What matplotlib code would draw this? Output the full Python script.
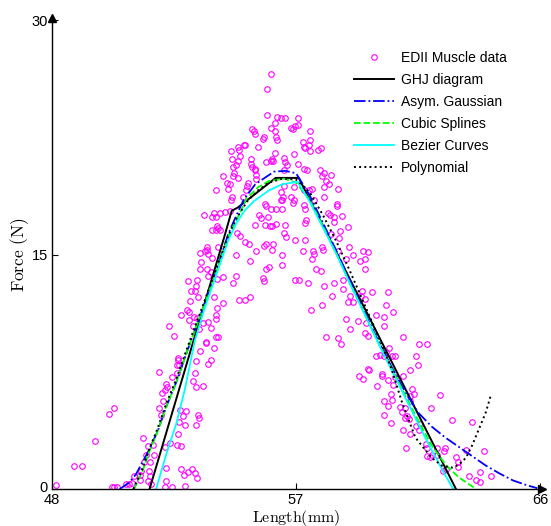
import matplotlib
matplotlib.use("Agg")
import matplotlib.pyplot as plt
import matplotlib.transforms as mtransforms
import numpy as np

# ---------------- data ----------------
pts = [
# left / bottom
(48.15,0.25),(48.8,1.5),(49.1,1.5),(49.6,3.1),(50.1,4.8),(50.3,5.2),
(50.22,0.1),(50.28,0.1),(50.41,0.1),(50.72,0.3),(50.84,0.35),(51.03,0.85),(51.25,0.6),(51.29,1.15),
(51.4,1.75),(51.47,2.15),(51.55,2.75),(51.37,3.25),(51.53,0.5),(51.59,1.15),(51.63,0.85),(51.66,0.3),
(52.15,0.1),(52.44,0.1),(52.19,0.5),(52.21,1.35),(52.89,0.2),(52.77,1.3),(52.87,0.9),(53.02,1.1),
(53.18,1.3),(53.28,1.05),(53.33,0.7),(52.62,2.8),(52.74,2.75),(52.36,2.95),(52.65,3.5),(52.89,4.1),
(53.3,4.1),(53.39,4.75),(53.43,4.55),(52.73,5.05),(52.93,5.0),(52.83,4.7),(52.67,4.3),(53.2,6.9),
(53.3,6.5),(53.58,6.6),(53.27,7.45),(53.3,8.2),(53.45,8.85),(53.74,8.0),(53.85,8.25),(53.68,9.35),
(53.99,9.0),(51.93,7.5),(52.21,6.7),(52.24,6.55),(52.15,6.35),(52.06,6.15),(52.42,7.15),(52.65,8.4),
(52.65,8.25),(52.61,7.9),(52.68,7.95),(52.62,7.4),(52.09,5.6),(51.94,5.15),(52.03,4.75),
(50.95,0.4),(51.25,0.9),(51.6,1.75),(51.78,2.15),(51.72,2.8),(52.15,2.7),
# upper left of peak
(56.08,26.52),(55.93,25.6),(55.93,23.9),(56.30,23.8),(56.46,23.7),(56.60,23.7),(56.21,23.4),(56.08,23.1),
(56.22,22.9),(56.28,22.5),(56.31,22.35),(56.80,23.1),(56.88,23.0),(56.97,23.2),(55.38,23.0),(55.5,22.7),
(55.44,22.9),(55.82,22.5),(55.78,22.4),(55.13,22.0),(55.07,22.0),(54.85,21.9),(54.61,21.6),(54.9,21.7),
(55.6,21.9),(56.22,21.5),(56.56,21.2),(56.58,20.9),(56.66,20.7),(56.13,21.1),(56.09,21.0),(55.88,20.9),
(56.14,21.0),(56.91,21.4),(55.33,21.1),(55.33,20.8),(55.47,20.5),(55.38,20.6),(54.63,21.1),(54.92,21.3),
(54.85,21.0),(54.78,20.75),(54.66,20.6),(54.70,20.2),(54.86,19.9),(54.67,20.0),(54.30,20.0),(54.47,19.6),
(54.56,19.5),(54.51,19.2),(54.06,19.1),(54.63,18.7),(54.62,18.5),(55.04,18.7),(55.17,19.1),(55.19,19.4),
(55.23,19.55),(55.52,20.1),(55.54,19.85),(55.50,20.4),(56.57,20.4),(56.43,19.0),(56.53,18.7),(56.46,18.5),
(56.83,18.7),(56.91,18.5),(56.93,19.3),(56.55,19.4),(55.85,18.2),(56.88,18.3),
# upper right of peak
(57.09,23.7),(57.06,23.3),(57.52,22.9),(57.53,22.35),(57.25,22.2),(57.28,21.9),(57.32,21.8),(57.48,22.0),
(57.5,21.6),(57.8,21.7),(57.93,21.8),(57.07,20.8),(57.31,20.45),(57.39,20.4),(57.87,20.4),(58.03,20.2),
(58.3,20.1),(58.09,19.7),(58.21,19.5),(58.05,19.3),(58.55,19.2),(57.96,20.0),(57.49,19.15),(57.59,19.2),
(57.31,19.1),(58.05,18.7),(57.68,18.5),(58.52,18.2),
# middle left
(55.88,18.1),(56.06,17.9),(56.25,17.9),(56.47,17.9),(56.47,18.5),(54.38,17.75),(54.55,17.8),(54.2,17.65),
(53.97,17.65),(54.04,17.4),(53.9,17.4),(53.62,17.55),(55.64,17.5),(55.72,17.35),(55.98,17.4),(55.85,16.9),
(55.48,16.9),(56.11,16.85),(56.27,16.95),(56.58,16.9),(56.04,16.85),(54.09,16.85),(54.12,16.7),(53.89,16.55),
(54.21,16.55),(54.05,16.55),(56.56,16.4),(56.64,16.1),(56.97,15.95),(54.82,16.35),(54.92,16.2),(55.13,15.8),
(55.25,15.7),(55.54,15.2),(55.81,15.55),(55.91,15.65),(56.16,15.7),(56.13,15.3),(56.49,14.95),(56.50,14.35),
(56.97,13.4),(55.9,14.05),(56.0,14.2),(55.79,13.5),(55.83,13.3),(55.29,14.6),(54.77,14.95),(54.8,13.6),
(54.66,13.2),(54.88,12.1),(55.11,12.1),(55.3,12.25),
(53.70,15.5),(53.64,15.2),(53.73,15.3),(53.45,15.1),(53.77,15.05),(54.14,15.45),(53.89,14.75),(53.48,14.55),
(53.45,14.05),(53.70,14.05),(53.85,13.9),(53.77,13.6),(54.07,13.45),(54.32,13.55),(53.02,13.3),(53.35,13.35),
(53.3,13.0),(53.14,12.65),(53.28,12.65),(53.39,12.25),(53.08,12.05),(53.97,12.3),(54.3,11.9),(54.07,11.55),
(52.98,11.45),(53.06,11.3),(52.75,11.15),(53.23,11.0),(53.04,10.8),(53.33,10.95),(54.06,11.1),(54.06,10.9),
(53.77,10.7),(53.58,10.65),(53.2,10.4),(53.85,10.3),(52.3,10.4),(52.5,9.8),(54.05,9.7),(54.14,9.7),
(53.68,9.4),(53.42,10.25),
# middle right
(57.31,18.15),(57.33,17.9),(58.52,18.1),(57.37,17.2),(57.35,17.0),(58.25,17.5),(58.42,17.4),(58.7,17.45),
(58.4,17.05),(58.9,16.75),(58.62,16.5),(58.6,16.05),(58.3,16.3),(58.18,17.65),
(57.33,15.95),(57.25,15.25),(57.62,15.25),(57.68,15.05),(57.58,14.7),(57.96,15.45),(57.99,15.3),(58.55,15.25),
(58.96,15.45),(59.1,14.95),(59.48,15.2),(59.67,15.15),(59.36,14.6),(59.54,14.7),(59.54,14.05),(58.86,14.7),
(57.74,14.05),(57.93,13.95),(57.12,13.4),(57.43,13.15),(58.05,13.0),(58.4,13.15),(58.73,13.35),(58.73,12.8),
(58.32,12.35),(58.9,11.95),(59.1,11.95),(58.98,12.35),(59.44,12.65),(59.81,12.6),(60.41,12.6),(60.31,11.75),
(60.57,11.35),(57.55,11.45),(57.96,11.75),(58.86,10.9),(59.27,10.75),(58.98,10.25),(59.94,11.1),(60.23,11.0),
(59.6,10.65),(60.23,10.4),(59.54,10.0),(59.64,9.8),(58.11,9.7),(58.55,9.65),(58.67,9.25),(60.93,9.75),
(61.53,9.25),(61.84,9.3),(59.41,12.35),(59.54,12.15),
# lower right
(59.94,8.5),(60.1,8.6),(60.23,8.5),(60.44,9.05),(60.31,8.75),(60.53,8.5),(60.66,8.5),(60.41,8.4),
(61.43,8.5),(61.51,7.9),(61.19,7.6),(59.67,7.65),(59.69,7.6),(59.33,7.2),(59.48,7.05),(60.16,7.35),
(60.16,7.25),(60.41,6.95),(59.97,6.6),(60.66,7.15),(60.57,6.65),(60.93,7.2),
(60.5,6.05),(60.53,5.7),(60.26,5.6),(60.41,5.3),(60.23,4.75),(60.51,4.25),(60.85,5.25),(61.03,5.2),
(60.91,4.95),(61.09,4.7),(61.01,4.55),(61.22,5.65),(61.34,6.1),(61.28,6.4),(61.22,5.95),(61.16,4.45),
(60.93,3.8),(61.22,3.55),(61.53,3.75),(61.59,4.15),(61.41,4.0),(62.3,6.0),(61.99,5.15),(62.77,4.4),
(63.48,4.3),(63.27,2.5),(63.95,2.45),(61.06,2.65),(61.78,2.85),(61.84,2.6),(61.84,2.1),(61.96,2.05),
(62.42,1.15),(62.52,1.3),(62.89,2.05),(62.96,1.4),(62.46,2.45),(62.21,2.2),(62.03,2.2),(63.8,1.1),
(64.2,0.8),(63.37,0.85),(63.64,0.55),(63.77,0.45),(62.2,2.65),(62.5,2.65),(62.96,1.7),
]
data_x = [p[0] for p in pts]
data_y = [p[1] for p in pts]

ghj_x = [51.6, 54.35, 54.63, 54.85, 56.25, 57.1, 62.9]
ghj_y = [0.0, 16.1, 17.8, 18.0, 19.9, 19.9, 0.0]

gauss_x = [50.5,50.84,51.1,51.3,51.55,51.9,52.2,52.6,52.9,53.15,53.6,54.1,54.5,54.8,55.07,55.5,56.19,56.6,
           57.0,57.5,58.0,58.5,59.0,59.5,60.0,60.5,61.0,61.5,62.0,62.5,63.0,63.5,64.0,64.5,65.0,65.5,65.9]
gauss_y = [0,0.4,0.95,1.6,2.4,3.7,5.2,6.9,8.4,9.6,11.7,14.2,16.3,17.5,18.5,19.5,20.3,20.35,
           20.2,18.8,17.0,15.2,13.3,11.4,9.6,7.9,6.3,4.9,4.0,3.3,2.7,2.1,1.5,1.0,0.55,0.25,0.05]

spline_x = [51.03,51.34,51.6,51.9,52.2,52.6,52.9,53.15,53.6,54.1,54.5,54.8,55.19,55.6,56.0,56.56,57.0,57.5,
            58.0,58.5,59.0,59.5,60.0,60.5,61.0,61.5,62.0,62.52,63.0,63.3,63.64]
spline_y = [0,1.15,2.45,3.7,5.2,6.9,8.4,9.6,11.7,14.1,16.1,17.2,18.6,19.3,19.7,19.85,19.6,18.5,
            16.8,15.0,13.1,11.3,9.5,7.8,6.1,4.4,2.8,1.55,0.75,0.4,0.0]

bezier_x = [51.84,52.21,52.58,52.89,53.27,53.6,54.1,54.5,54.8,55.1,55.44,56.0,56.5,57.06,57.5,58.0,58.5,
            59.0,59.5,60.0,60.5,61.0,61.5,62.0,62.5,62.8]
bezier_y = [0,2.2,4.15,6.3,9.5,11.4,13.9,15.9,17.0,17.8,18.4,19.1,19.5,19.65,18.4,16.7,15.0,
            13.1,11.3,9.45,7.7,5.95,4.2,2.5,0.9,0.0]

poly_x = [51.0,51.34,51.6,51.9,52.2,52.6,52.9,53.15,53.6,54.1,54.5,54.8,55.2,55.6,56.0,56.5,57.0,57.5,
          58.0,58.5,59.0,59.5,60.0,60.5,60.9,61.4,62.0,62.4,62.77,63.0,63.27,63.5,63.77,64.0,64.2]
poly_y = [0,1.3,2.6,3.9,5.4,7.1,8.6,9.8,11.9,14.3,16.2,17.3,18.4,19.1,19.6,19.85,19.8,19.0,
          17.5,15.8,13.9,11.9,9.9,7.8,5.6,3.3,2.0,1.47,1.37,1.55,2.0,2.8,3.93,4.9,6.07]

x_ticks = [48, 57, 66]
y_ticks = [0, 15, 30]

# ---------------- figure ----------------
plt.rcParams['mathtext.fontset'] = 'cm'
fig = plt.figure(figsize=(5.51, 5.26), dpi=100)
ax = fig.add_axes([52/551, 1-489/526, (540-52)/551, (489-20)/526])

ax.plot(data_x, data_y, 'o', ls='none', mfc='none', mec='#ff00ff', ms=4.0, mew=0.8,
        label='EDII Muscle data')
ax.plot(ghj_x, ghj_y, '-', color='black', lw=1.4, label='GHJ diagram')
ax.plot(gauss_x, gauss_y, '-.', color='#0000ff', lw=1.3, label='Asym. Gaussian')
ax.plot(spline_x, spline_y, '--', color='#00ff00', lw=1.3, label='Cubic Splines')
ax.plot(bezier_x, bezier_y, '-', color='#00ffff', lw=1.3, label='Bezier Curves')
ax.plot(poly_x, poly_y, ':', color='black', lw=1.4, label='Polynomial')

ax.set_xlim(48, 66)
ax.set_ylim(0, 30)
ax.set_xticks(x_ticks)
ax.set_yticks(y_ticks)
ax.set_xticklabels([str(v) for v in x_ticks], family='Liberation Sans', fontsize=10.5)
ax.set_yticklabels([str(v) for v in y_ticks], family='Liberation Sans', fontsize=10.5)
ax.tick_params(direction='in', length=4, width=0.8)
ax.tick_params(axis='x', pad=3)
ax.tick_params(axis='y', pad=3)
# nudge the "0" y label up slightly so it does not collide with "48"
zero_lbl = ax.get_yticklabels()[0]
zero_lbl.set_transform(zero_lbl.get_transform() +
                       mtransforms.ScaledTranslation(0, 3/100, fig.dpi_scale_trans))
for s in ['top', 'right']:
    ax.spines[s].set_visible(False)
for s in ['left', 'bottom']:
    ax.spines[s].set_linewidth(1.0)

# arrow heads
ax.plot([0], [1.0 + 2.5/469], marker='^', ms=6, color='black', transform=ax.transAxes, clip_on=False)
ax.plot([1.0 + 2/488], [0], marker='>', ms=6, color='black', transform=ax.transAxes, clip_on=False)

ax.set_xlabel(r'$\mathrm{Length(mm)}$', fontsize=11.5)
ax.xaxis.set_label_coords(0.5, -(507.5 - 489) / 469)
ax.set_ylabel(r'$\mathrm{Force\ (N)}$', fontsize=12.5, labelpad=0)

leg = ax.legend(loc='upper left', bbox_to_anchor=((354-52)/488, (489-51)/469), frameon=False,
                prop={'family': 'Liberation Sans', 'size': 10}, handlelength=2.9, handletextpad=0.5,
                labelspacing=0.57, borderpad=0, borderaxespad=0)

fig.savefig('out.png', dpi=100)
